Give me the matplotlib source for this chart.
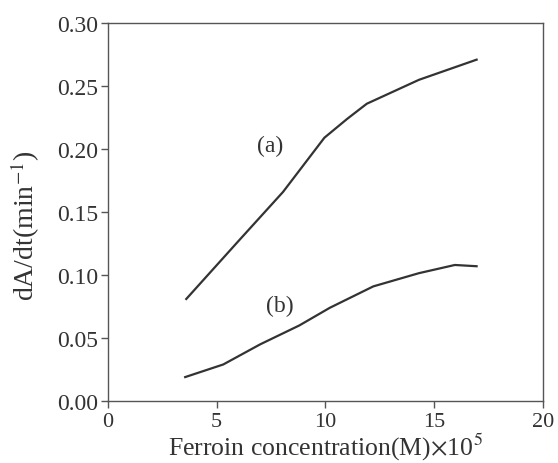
import matplotlib
matplotlib.use('Agg')

import matplotlib.pyplot as plt

# Kurve (a)
konz_a = [3.6, 6.0, 8.05, 9.95, 11.0, 11.9, 14.3, 16.95]
rate_a = [0.081, 0.127, 0.166, 0.209, 0.224, 0.236, 0.255, 0.271]

# Kurve (b)
konz_b = [3.55, 5.3, 7.0, 8.8, 10.2, 12.2, 14.3, 15.95, 16.95]
rate_b = [0.019, 0.029, 0.045, 0.060, 0.074, 0.091, 0.1015, 0.108, 0.107]

x_ticks = [0, 5, 10, 15, 20]
y_ticks = [0.00, 0.05, 0.10, 0.15, 0.20, 0.25, 0.30]

plt.rcParams['font.family'] = ['Liberation Serif', 'DejaVu Serif']
plt.rcParams['mathtext.fontset'] = 'stix'

fig = plt.figure(figsize=(5.58, 4.64), dpi=100)
ax = fig.add_axes([0.1935, 0.1336, 0.7795, 0.8144])

farbe = '#333333'
ax.plot(konz_a, rate_a, color=farbe, lw=1.6)
ax.plot(konz_b, rate_b, color=farbe, lw=1.6)

ax.text(7.45, 0.203, '(a)', fontsize=17, ha='center', va='center', color='#333333')
ax.text(7.9, 0.0757, '(b)', fontsize=17, ha='center', va='center', color='#333333')

ax.set_xlim(0, 20)
ax.set_ylim(0, 0.30)
ax.set_xticks(x_ticks)
ax.set_yticks(y_ticks)
ax.set_yticklabels([f"{v:.2f}" for v in y_ticks])

for s in ax.spines.values():
    s.set_color('#555555')
    s.set_linewidth(1.0)
ax.tick_params(direction='out', length=5, width=1.0, color='#555555',
               labelsize=17, labelcolor='#333333', pad=2)
ax.tick_params(axis='x', pad=3, labelsize=16)

ax.set_xlabel(r'Ferroin concentration(M)$\times$10$^5$', fontsize=18.5,
              color='#333333')
ax.xaxis.label.set_va('baseline')
ax.xaxis.set_label_coords(0.5, -0.143)
ax.set_ylabel(r'dA/dt(min$^{-1}$)', fontsize=20, color='#333333')
ax.yaxis.set_label_coords(-0.152, 0.466)

fig.savefig('out.png', dpi=100)
